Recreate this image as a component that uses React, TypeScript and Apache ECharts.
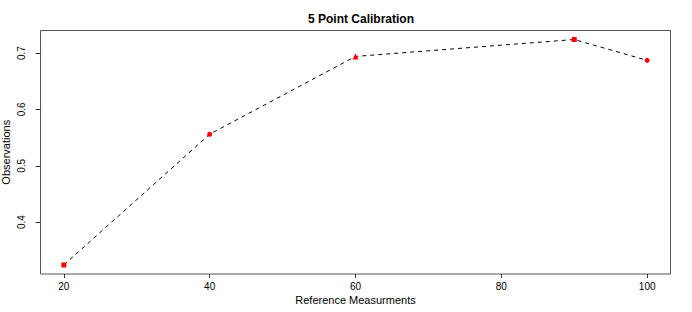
import React, { useEffect, useRef } from "react";
import * as echarts from "echarts";

const referenceValues = [20, 40, 60, 90, 100];
const observations = [0.324, 0.556, 0.694, 0.724, 0.687];
const xTicks = [20, 40, 60, 80, 100];
const yTicks = [0.4, 0.5, 0.6, 0.7];

const markerShapes = ["rect", "circle", "triangle", "rect", "circle"];
const FONT = "'Liberation Sans', Arial, Helvetica, sans-serif";

export default function App() {
  const ref = useRef<HTMLDivElement>(null);
  useEffect(() => {
    if (!ref.current) return;
    const chart = echarts.init(ref.current, null, { renderer: "svg" });
    const xr = Math.max(...referenceValues) - Math.min(...referenceValues);
    const yr = Math.max(...observations) - Math.min(...observations);
    const xMin = Math.min(...referenceValues) - 0.04 * xr;
    const xMax = Math.max(...referenceValues) + 0.04 * xr;
    const yMin = Math.min(...observations) - 0.04 * yr;
    const yMax = Math.max(...observations) + 0.04 * yr;
    chart.setOption({
      animation: false,
      backgroundColor: "#ffffff",
      title: {
        text: "5 Point Calibration",
        left: 356,
        textAlign: "center",
        top: 8,
        textStyle: { fontFamily: FONT, fontSize: 12, fontWeight: "bold", color: "#000" },
      },
      grid: {
        left: 40.5,
        right: 21.5,
        top: 30.5,
        bottom: 38,
        outerBoundsMode: "none",
        containLabel: false,
        show: true,
        borderColor: "#555",
        borderWidth: 1,
        backgroundColor: "transparent",
      },
      xAxis: {
        type: "value",
        min: xMin,
        max: xMax,
        name: "Reference Measurments",
        nameLocation: "middle",
        nameGap: 20,
        nameMoveOverlap: false,
        nameTextStyle: { fontFamily: FONT, fontSize: 11, color: "#000" },
        axisLine: { show: false },
        axisTick: { show: true, length: 4, customValues: xTicks, lineStyle: { color: "#333" } },
        axisLabel: {
          customValues: xTicks,
          margin: 7,
          fontFamily: FONT,
          fontSize: 10,
          color: "#000",
        },
        splitLine: { show: false },
      },
      yAxis: {
        type: "value",
        min: yMin,
        max: yMax,
        name: "Observations",
        nameLocation: "middle",
        nameGap: 29.5,
        nameMoveOverlap: false,
        nameTextStyle: { fontFamily: FONT, fontSize: 11, color: "#000" },
        axisLine: { show: false },
        axisTick: { show: true, length: 5, customValues: yTicks, lineStyle: { color: "#333" } },
        axisLabel: {
          customValues: yTicks,
          rotate: 90,
          margin: 14,
          fontFamily: FONT,
          fontSize: 10,
          color: "#000",
          formatter: (v: number) => v.toFixed(1),
        },
        splitLine: { show: false },
      },
      series: [
        {
          type: "line",
          data: referenceValues.map((x, i) => ({
            value: [x, observations[i]],
            symbol: markerShapes[i],
            symbolSize: markerShapes[i] === "triangle" ? 6 : 5,
          })),
          lineStyle: { color: "#000", width: 1, type: [4, 4] },
          itemStyle: { color: "#ff0000" },
          showAllSymbol: true,
          z: 3,
        },
      ],
    });
    return () => chart.dispose();
  }, []);
  return (
    <div
      ref={ref}
      style={{ position: "fixed", left: 0, top: 0, width: 692, height: 312 }}
    />
  );
}
